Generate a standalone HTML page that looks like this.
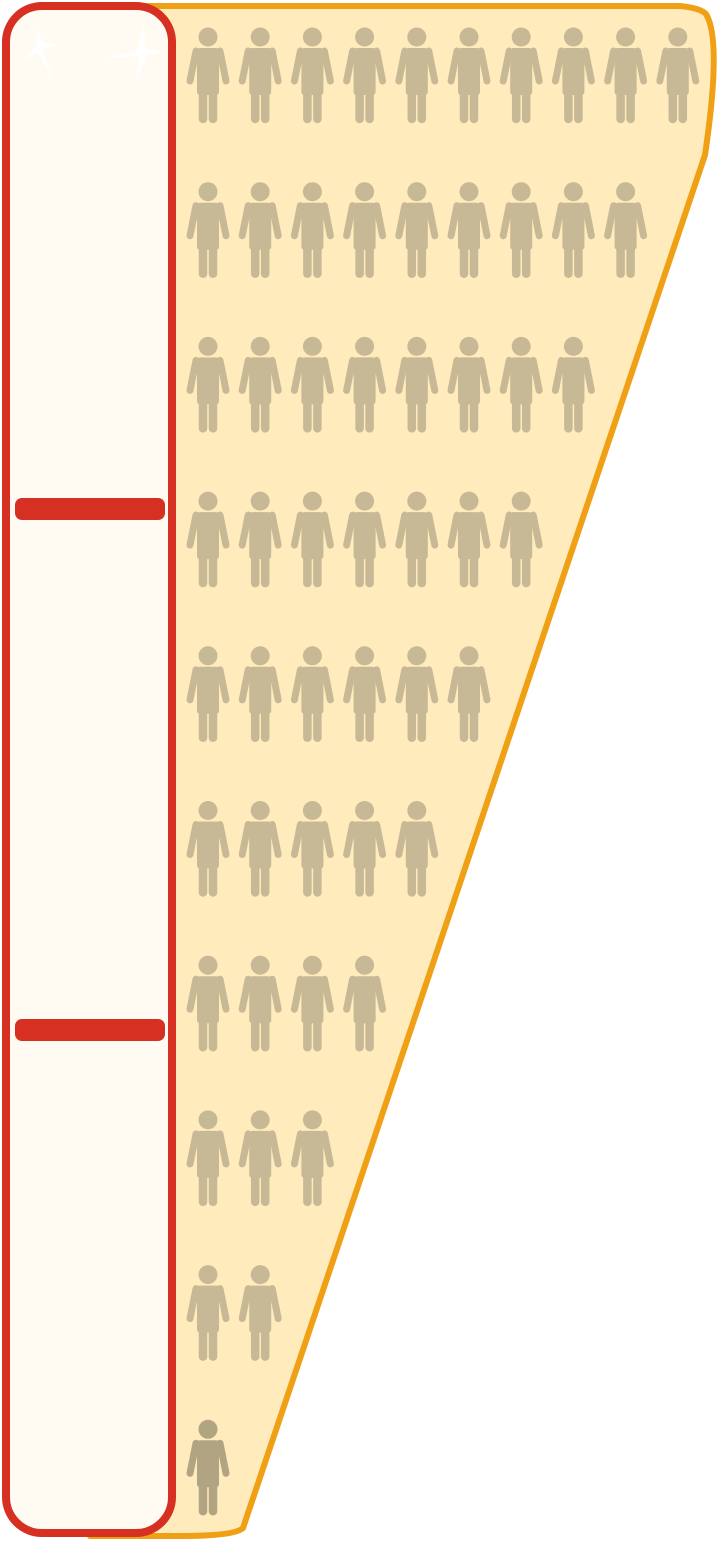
<!DOCTYPE html>
<html><head><meta charset="utf-8"><style>
html,body{margin:0;padding:0;background:#fff;}
svg{display:block;}
</style></head><body>
<svg id="chart" width="719" height="1542" viewBox="0 0 719 1542" xmlns="http://www.w3.org/2000/svg">
<path d="M90,6 L680,6 Q700,8 706,14 Q722,40 705,155 L243,1528 Q235,1536 180,1536 L90,1536 Z" fill="#FFEBBB" stroke="#F0A014" stroke-width="6" stroke-linejoin="round"/>
<rect x="6" y="6" width="166" height="1527" rx="36" fill="#FFFBF3" stroke="#D63022" stroke-width="8"/>
<g fill="#ffffff">
<path d="M38,28 L42,42 L58,45 L43,49 L52,80 L38,52 L22,60 L35,47 Z"/>
<path d="M143,22 L146,48 L163,52 L146,56 L136,82 L139,56 L105,58 L138,50 Z"/>
</g>
<rect x="15" y="498" width="150" height="22" rx="7" fill="#D63022"/>
<rect x="15" y="1019" width="150" height="22" rx="7" fill="#D63022"/>
<g id="people"></g>
</svg>
<script>
const rowCounts = [10, 9, 8, 7, 6, 5, 4, 3, 2, 1];
const highlightRow = [false, false, false, false, false, false, false, false, false, true];
const NS = "http://www.w3.org/2000/svg";
const g = document.getElementById('people');
function xPos(col){ return 208 + col * 52.2; }
function yPos(row){ return 37 + row * 154.7; }
function person(cx, cy, color){
  const p = document.createElementNS(NS, 'g');
  p.setAttribute('fill', color);
  p.setAttribute('stroke', color);
  p.innerHTML =
    `<circle cx="${cx}" cy="${cy}" r="9.5" stroke="none"/>` +
    `<rect x="${cx-11}" y="${cy+11}" width="22" height="47" rx="3" stroke="none"/>` +
    `<line x1="${cx-12}" y1="${cy+14}" x2="${cx-18}" y2="${cy+44}" stroke-width="7" stroke-linecap="round"/>` +
    `<line x1="${cx+12}" y1="${cy+14}" x2="${cx+18}" y2="${cy+44}" stroke-width="7" stroke-linecap="round"/>` +
    `<line x1="${cx-5}" y1="${cy+50}" x2="${cx-5}" y2="${cy+82}" stroke-width="8.5" stroke-linecap="round"/>` +
    `<line x1="${cx+5}" y1="${cy+50}" x2="${cx+5}" y2="${cy+82}" stroke-width="8.5" stroke-linecap="round"/>`;
  return p;
}
rowCounts.forEach((n, r) => {
  for (let c = 0; c < n; c++) {
    const el = person(xPos(c), yPos(r), highlightRow[r] ? '#B0A482' : '#C8B996');
    
    
    g.appendChild(el);
  }
});
</script>
</body></html>
